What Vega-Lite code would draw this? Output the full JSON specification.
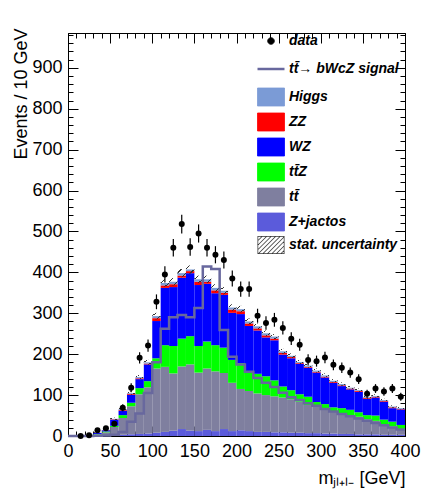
{
"$schema": "https://vega.github.io/schema/vega-lite/v6.json",
"width": 337, "height": 403,
"autosize": "none",
"padding": {"left": 68, "top": 33, "right": 18, "bottom": 66},
"background": "white",
"datasets": {
"h": [
{"b":0,"b2":10,"c":5,"P":0,"G":0,"Gr":0,"B":0,"R":0,"H":0,"ul":0,"uh":0,"d":null,"dl":null,"dh":null},
{"b":10,"b2":20,"c":15,"P":0.2,"G":0.5,"Gr":0.6,"B":1,"R":1.1,"H":1.2,"ul":0.7,"uh":1.7,"d":0,"dl":0,"dh":0},
{"b":20,"b2":30,"c":25,"P":0.4,"G":1,"Gr":1.3,"B":2.2,"R":2.4,"H":2.6,"ul":1.8,"uh":3.4,"d":2,"dl":0.6,"dh":3.4},
{"b":30,"b2":40,"c":35,"P":1,"G":4,"Gr":5,"B":7.5,"R":7.8,"H":8,"ul":6.5,"uh":9.5,"d":14,"dl":10.3,"dh":17.7},
{"b":40,"b2":50,"c":45,"P":2,"G":9,"Gr":11,"B":14,"R":14.5,"H":15,"ul":13,"uh":17,"d":19,"dl":14.6,"dh":23.4},
{"b":50,"b2":60,"c":55,"P":3,"G":22,"Gr":25,"B":40,"R":41,"H":42,"ul":39,"uh":45,"d":30,"dl":24.5,"dh":35.5},
{"b":60,"b2":70,"c":65,"P":3,"G":44,"Gr":51,"B":62,"R":64,"H":66,"ul":63,"uh":69,"d":69,"dl":60.7,"dh":77.3},
{"b":70,"b2":80,"c":75,"P":4,"G":73,"Gr":81,"B":101,"R":103,"H":105,"ul":101,"uh":109,"d":118,"dl":107.1,"dh":128.9},
{"b":80,"b2":90,"c":85,"P":5,"G":102,"Gr":117,"B":139,"R":141,"H":144,"ul":139,"uh":149,"d":191,"dl":177.2,"dh":204.8},
{"b":90,"b2":100,"c":95,"P":6,"G":119,"Gr":134,"B":175,"R":177,"H":180,"ul":174,"uh":186,"d":221,"dl":206.1,"dh":235.9},
{"b":100,"b2":110,"c":105,"P":8,"G":165,"Gr":190,"B":281,"R":288,"H":293,"ul":285,"uh":301,"d":328,"dl":309.9,"dh":346.1},
{"b":110,"b2":120,"c":115,"P":10,"G":169,"Gr":222,"B":362,"R":368,"H":374,"ul":365,"uh":383,"d":395,"dl":375.1,"dh":414.9},
{"b":120,"b2":130,"c":125,"P":13,"G":153,"Gr":220,"B":364,"R":371,"H":377,"ul":368,"uh":386,"d":460,"dl":438.6,"dh":481.4},
{"b":130,"b2":140,"c":135,"P":17,"G":170,"Gr":238,"B":387,"R":392,"H":398,"ul":388,"uh":408,"d":518,"dl":495.2,"dh":540.8},
{"b":140,"b2":150,"c":145,"P":13,"G":175,"Gr":244,"B":398,"R":403,"H":407,"ul":397,"uh":417,"d":462,"dl":440.5,"dh":483.5},
{"b":150,"b2":160,"c":155,"P":12,"G":155,"Gr":220,"B":369,"R":377,"H":383,"ul":374,"uh":392,"d":495,"dl":472.8,"dh":517.2},
{"b":160,"b2":170,"c":165,"P":15,"G":165,"Gr":231,"B":372,"R":377,"H":383,"ul":374,"uh":392,"d":460,"dl":438.6,"dh":481.4},
{"b":170,"b2":180,"c":175,"P":12,"G":158,"Gr":222,"B":349,"R":356,"H":362,"ul":353,"uh":371,"d":443,"dl":422,"dh":464},
{"b":180,"b2":190,"c":185,"P":17,"G":154,"Gr":216,"B":345,"R":350,"H":355,"ul":346,"uh":364,"d":430,"dl":409.3,"dh":450.7},
{"b":190,"b2":200,"c":195,"P":12,"G":130,"Gr":186,"B":301,"R":309,"H":314,"ul":306,"uh":322,"d":385,"dl":365.4,"dh":404.6},
{"b":200,"b2":210,"c":205,"P":14,"G":115,"Gr":178,"B":298,"R":305,"H":310,"ul":302,"uh":318,"d":359,"dl":340.1,"dh":377.9},
{"b":210,"b2":220,"c":215,"P":12,"G":110,"Gr":158,"B":269,"R":275,"H":280,"ul":273,"uh":287,"d":359,"dl":340.1,"dh":377.9},
{"b":220,"b2":230,"c":225,"P":10,"G":104,"Gr":152,"B":258,"R":263,"H":268,"ul":261,"uh":275,"d":294,"dl":276.9,"dh":311.1},
{"b":230,"b2":240,"c":235,"P":10,"G":100,"Gr":146,"B":241,"R":246,"H":251,"ul":244,"uh":258,"d":276,"dl":259.4,"dh":292.6},
{"b":240,"b2":250,"c":245,"P":9,"G":97,"Gr":136,"B":234,"R":238,"H":243,"ul":237,"uh":249,"d":284,"dl":267.1,"dh":300.9},
{"b":250,"b2":260,"c":255,"P":9,"G":94,"Gr":121,"B":199,"R":203,"H":207,"ul":201,"uh":213,"d":264,"dl":247.8,"dh":280.2},
{"b":260,"b2":270,"c":265,"P":8,"G":90,"Gr":112,"B":190,"R":193,"H":196,"ul":190,"uh":202,"d":238,"dl":222.6,"dh":253.4},
{"b":270,"b2":280,"c":275,"P":8,"G":84,"Gr":102,"B":176,"R":178,"H":181,"ul":176,"uh":186,"d":223,"dl":208.1,"dh":237.9},
{"b":280,"b2":290,"c":285,"P":7,"G":76,"Gr":96,"B":167,"R":169,"H":172,"ul":167,"uh":177,"d":186,"dl":172.4,"dh":199.6},
{"b":290,"b2":300,"c":295,"P":7,"G":72,"Gr":83,"B":155,"R":157,"H":160,"ul":155,"uh":165,"d":183,"dl":169.5,"dh":196.5},
{"b":300,"b2":310,"c":305,"P":6,"G":64,"Gr":78,"B":143,"R":145,"H":148,"ul":143,"uh":153,"d":192,"dl":178.1,"dh":205.9},
{"b":310,"b2":320,"c":315,"P":6,"G":59,"Gr":70,"B":130,"R":132,"H":135,"ul":131,"uh":139,"d":174,"dl":160.8,"dh":187.2},
{"b":320,"b2":330,"c":325,"P":5,"G":56,"Gr":68,"B":122,"R":124,"H":127,"ul":123,"uh":131,"d":167,"dl":154.1,"dh":179.9},
{"b":330,"b2":340,"c":335,"P":5,"G":48,"Gr":64,"B":114,"R":116,"H":118,"ul":114,"uh":122,"d":155,"dl":142.6,"dh":167.4},
{"b":340,"b2":350,"c":345,"P":4,"G":47,"Gr":58,"B":108,"R":110,"H":112,"ul":108,"uh":116,"d":139,"dl":127.2,"dh":150.8},
{"b":350,"b2":360,"c":355,"P":4,"G":41,"Gr":51,"B":91,"R":93,"H":95,"ul":91,"uh":99,"d":103,"dl":92.9,"dh":113.1},
{"b":360,"b2":370,"c":365,"P":4,"G":37,"Gr":50,"B":94,"R":96,"H":98,"ul":94,"uh":102,"d":116,"dl":105.2,"dh":126.8},
{"b":370,"b2":380,"c":375,"P":3,"G":29,"Gr":40,"B":84,"R":86,"H":88,"ul":85,"uh":91,"d":109,"dl":98.6,"dh":119.4},
{"b":380,"b2":390,"c":385,"P":3,"G":23,"Gr":35,"B":68,"R":70,"H":72,"ul":69,"uh":75,"d":116,"dl":105.2,"dh":126.8},
{"b":390,"b2":400,"c":395,"P":3,"G":16,"Gr":27,"B":65,"R":66,"H":68,"ul":65,"uh":71,"d":96,"dl":86.2,"dh":105.8}
],
"sig": [
{"x":0,"s":0},{"x":10,"s":0},{"x":20,"s":0},{"x":30,"s":0.5},{"x":40,"s":1},{"x":50,"s":3},{"x":60,"s":10},{"x":70,"s":35},{"x":80,"s":55},{"x":90,"s":105},
{"x":100,"s":180},{"x":110,"s":262},{"x":120,"s":290},{"x":130,"s":296},{"x":140,"s":290},{"x":150,"s":313},{"x":160,"s":414},{"x":170,"s":408},{"x":180,"s":259},{"x":190,"s":194},
{"x":200,"s":175},{"x":210,"s":157},{"x":220,"s":142},{"x":230,"s":130},{"x":240,"s":120},{"x":250,"s":106},{"x":260,"s":95},{"x":270,"s":88},{"x":280,"s":80},{"x":290,"s":74},
{"x":300,"s":66},{"x":310,"s":60},{"x":320,"s":54},{"x":330,"s":48},{"x":340,"s":43},{"x":350,"s":37},{"x":360,"s":32},{"x":370,"s":26},{"x":380,"s":21},{"x":390,"s":16},{"x":400,"s":16}
]
},
"resolve": {"axis": {"x": "independent", "y": "independent"}},
"layer": [
{"data": {"name": "h"}, "mark": {"type": "rect"},
 "encoding": {
  "x": {"field": "b", "type": "quantitative", "scale": {"domain": [0, 400], "nice": false, "zero": false},
        "axis": {"orient": "bottom", "values": [0,50,100,150,200,250,300,350,400], "tickSize": -10, "labelPadding": 16, "labelFlush": false, "labelOverlap": false,
                 "title": "mⱼₗ₊ₗ₋ [GeV]", "titleX": 337, "titleY": 47, "titleAlign": "right", "titleBaseline": "alphabetic", "titleAnchor": null}},
  "x2": {"field": "b2"},
  "y": {"field": "P", "type": "quantitative", "scale": {"domain": [0, 985], "nice": false, "zero": true},
        "axis": {"orient": "left", "values": [0,100,200,300,400,500,600,700,800,900], "tickSize": -10, "labelPadding": 16, "labelOverlap": false,
                 "title": "Events / 10 GeV", "titleX": -42, "titleY": -5, "titleAngle": -90, "titleAlign": "right", "titleBaseline": "alphabetic", "titleAnchor": null}},
  "color": {"datum": "Z+jactos", "type": "nominal",
    "scale": {"domain": ["data", "tt̄→ bWcZ signal", "Higgs", "ZZ", "WZ", "tt̄Z", "tt̄", "Z+jactos", "stat. uncertainty"],
              "range": ["#000000", "#68689e", "#7b9bd6", "#ff0000", "#0000ff", "#00ff00", "#7f7f9f", "#5b5bdb", "#333333"]},
    "legend": {"orient": "none", "legendX": 196, "legendY": 1, "title": null, "padding": 0,
      "labelFont": "Liberation Sans", "labelFontSize": 14, "labelFontStyle": "italic", "labelFontWeight": "bold", "labelColor": "#000", "labelLimit": 400,
      "symbolSize": 324, "rowPadding": 3, "labelOffset": 11,
      "encode": {"symbols": {"update": {
        "shape": {"signal": "datum.index === 0 ? 'M-1.5,-1M1.5,1M0.37,0A0.37,0.37,0,1,1,-0.37,0A0.37,0.37,0,1,1,0.37,0Z' : datum.index === 1 ? 'M-1.5,-1M1.5,1M-1.5,0H1.5' : datum.index === 8 ? 'M-1.5,-1L1.5,-1L1.5,1L-1.5,1M-1.42,-0.92L-1.42,0.92L1.42,0.92L1.42,-0.92M-1.5,-0.5L-1,-1L-0.88,-1L-1.5,-0.38M-1.5,0L-0.5,-1L-0.38,-1L-1.5,0.12M-1.5,0.5L0,-1L0.12,-1L-1.5,0.62M-1.5,1L0.5,-1L0.62,-1L-1.38,1M-1,1L1,-1L1.12,-1L-0.88,1M-0.5,1L1.5,-1L1.5,-0.88L-0.38,1M0,1L1.5,-0.5L1.5,-0.38L0.12,1M0.5,1L1.5,0L1.5,0.12L0.62,1M1,1L1.5,0.5L1.5,0.62L1.12,1Z' : 'M-1.5,-1H1.5V1H-1.5Z'"},
        "size": {"value": 324},
        "strokeWidth": {"signal": "datum.index === 1 ? 2.5 : datum.index === 8 ? 0 : 0.8"},
        "opacity": {"value": 1}
      }}}
    }}
 }},
{"data": {"name": "h"}, "mark": {"type": "rect"},
 "encoding": {
  "x": {"field": "b", "type": "quantitative", "axis": {"orient": "bottom", "values": [0,10,20,30,40,50,60,70,80,90,100,110,120,130,140,150,160,170,180,190,200,210,220,230,240,250,260,270,280,290,300,310,320,330,340,350,360,370,380,390,400], "tickSize": -5, "labels": false, "title": null}},
  "x2": {"field": "b2"},
  "y": {"field": "G", "type": "quantitative", "axis": {"orient": "left", "values": [0,20,40,60,80,100,120,140,160,180,200,220,240,260,280,300,320,340,360,380,400,420,440,460,480,500,520,540,560,580,600,620,640,660,680,700,720,740,760,780,800,820,840,860,880,900,920,940,960,980], "tickSize": -5, "labels": false, "title": null}},
  "y2": {"field": "P"},
  "color": {"datum": "tt̄", "type": "nominal"}
 }},
{"data": {"name": "h"}, "mark": {"type": "rect"},
 "encoding": {
  "x": {"field": "b", "type": "quantitative", "axis": {"orient": "top", "values": [0,50,100,150,200,250,300,350,400], "tickSize": -10, "labels": false, "title": null}},
  "x2": {"field": "b2"},
  "y": {"field": "Gr", "type": "quantitative", "axis": {"orient": "right", "values": [0,100,200,300,400,500,600,700,800,900], "tickSize": -10, "labels": false, "title": null}},
  "y2": {"field": "G"},
  "color": {"datum": "tt̄Z", "type": "nominal"}
 }},
{"data": {"name": "h"}, "mark": {"type": "rect"},
 "encoding": {
  "x": {"field": "b", "type": "quantitative", "axis": {"orient": "top", "values": [0,10,20,30,40,50,60,70,80,90,100,110,120,130,140,150,160,170,180,190,200,210,220,230,240,250,260,270,280,290,300,310,320,330,340,350,360,370,380,390,400], "tickSize": -5, "labels": false, "title": null}},
  "x2": {"field": "b2"},
  "y": {"field": "B", "type": "quantitative", "axis": {"orient": "right", "values": [0,20,40,60,80,100,120,140,160,180,200,220,240,260,280,300,320,340,360,380,400,420,440,460,480,500,520,540,560,580,600,620,640,660,680,700,720,740,760,780,800,820,840,860,880,900,920,940,960,980], "tickSize": -5, "labels": false, "title": null}},
  "y2": {"field": "Gr"},
  "color": {"datum": "WZ", "type": "nominal"}
 }},
{"data": {"name": "h"}, "mark": {"type": "rect"},
 "encoding": {
  "x": {"field": "b", "type": "quantitative", "axis": null},
  "x2": {"field": "b2"},
  "y": {"field": "R", "type": "quantitative", "axis": null},
  "y2": {"field": "B"},
  "color": {"datum": "ZZ", "type": "nominal"}
 }},
{"data": {"name": "h"}, "mark": {"type": "rect"},
 "encoding": {
  "x": {"field": "b", "type": "quantitative", "axis": null},
  "x2": {"field": "b2"},
  "y": {"field": "H", "type": "quantitative", "axis": null},
  "y2": {"field": "R"},
  "color": {"datum": "Higgs", "type": "nominal"}
 }},
{"data": {"name": "h"}, "mark": {"type": "rect",
   "fill": {"gradient": "linear", "x1": 0, "y1": 0, "x2": 1, "y2": 1, "stops": [
     {"offset": 0, "color": "rgba(0,0,0,0)"}, {"offset": 0.2, "color": "rgba(0,0,0,0)"},
     {"offset": 0.2, "color": "#333333"}, {"offset": 0.27, "color": "#333333"},
     {"offset": 0.27, "color": "rgba(0,0,0,0)"}, {"offset": 0.7, "color": "rgba(0,0,0,0)"},
     {"offset": 0.7, "color": "#333333"}, {"offset": 0.77, "color": "#333333"},
     {"offset": 0.77, "color": "rgba(0,0,0,0)"}, {"offset": 1, "color": "rgba(0,0,0,0)"}]}},
 "encoding": {
  "x": {"field": "b", "type": "quantitative", "axis": null},
  "x2": {"field": "b2"},
  "y": {"field": "uh", "type": "quantitative", "axis": null},
  "y2": {"field": "ul"}
 }},
{"data": {"name": "sig"}, "mark": {"type": "line", "interpolate": "step-after", "strokeWidth": 2.5},
 "encoding": {
  "x": {"field": "x", "type": "quantitative", "axis": null},
  "y": {"field": "s", "type": "quantitative", "axis": null},
  "color": {"datum": "tt̄→ bWcZ signal", "type": "nominal"}
 }},
{"data": {"name": "h"}, "mark": {"type": "rule", "color": "#000000", "strokeWidth": 1.2},
 "encoding": {
  "x": {"field": "c", "type": "quantitative", "axis": null},
  "y": {"field": "dl", "type": "quantitative", "axis": null},
  "y2": {"field": "dh"}
 }},
{"data": {"name": "h"}, "mark": {"type": "point", "filled": true, "color": "#000000", "opacity": 1, "size": 36},
 "encoding": {
  "x": {"field": "c", "type": "quantitative", "axis": null},
  "y": {"field": "d", "type": "quantitative", "axis": null}
 }}
],
"config": {
  "view": {"stroke": "#000000", "strokeWidth": 1},
  "font": "Liberation Sans",
  "axis": {"domain": false, "grid": false, "zindex": 1, "tickColor": "#000000", "tickWidth": 1, "labelColor": "#000000", "titleColor": "#000000",
           "labelFont": "Liberation Sans", "labelFontSize": 18, "titleFont": "Liberation Sans", "titleFontSize": 18, "titleFontWeight": "normal"}
}
}
